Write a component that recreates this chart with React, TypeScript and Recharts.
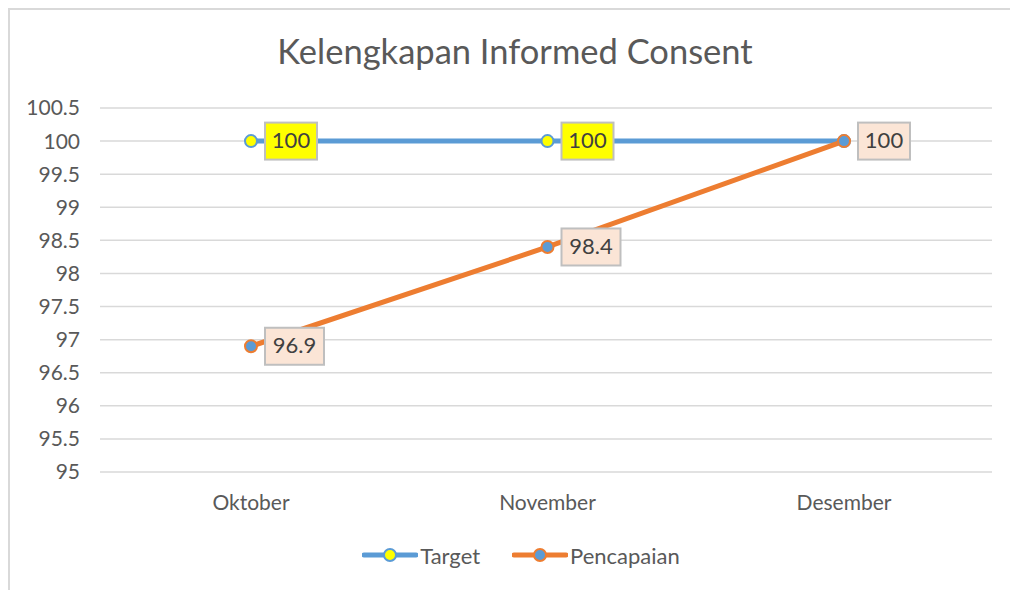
import { LineChart, Line, XAxis, YAxis, CartesianGrid, Legend } from 'recharts';

const months = ['Oktober', 'November', 'Desember'];
const target = [100, 100, 100];
const pencapaian = [96.9, 98.4, 100];
const yTicks = [95, 95.5, 96, 96.5, 97, 97.5, 98, 98.5, 99, 99.5, 100, 100.5];

const data = months.map((m, i) => ({ month: m, target: target[i], pencapaian: pencapaian[i] }));

const FONT = 'Lato, "Open Sans", sans-serif';
const BLUE = '#5B9BD5';
const ORANGE = '#ED7D31';

const makeLabel = (fill: string, skip: number[]) => (props: any) => {
  const { x, y, value, index } = props;
  if (skip.includes(index) || x == null) return null;
  const text = String(value);
  const w = text.length >= 4 ? 59 : 52;
  const h = 37;
  return (
    <g key={`lbl-${index}`}>
      <rect x={x + 14} y={y - h / 2} width={w} height={h} fill={fill} stroke="#BFBFBF" strokeWidth={2} />
      <text
        x={x + 14 + w / 2}
        y={y + 1}
        textAnchor="middle"
        dominantBaseline="middle"
        fontFamily={FONT}
        fontSize={22}
        fill="#404040"
      >
        {text}
      </text>
    </g>
  );
};

const LegendContent = () => {
  const items = [
    { name: 'Target', line: BLUE, dotFill: 'yellow', dotStroke: BLUE },
    { name: 'Pencapaian', line: ORANGE, dotFill: BLUE, dotStroke: ORANGE },
  ];
  return (
    <div style={{ height: 30, display: 'flex', justifyContent: 'center', alignItems: 'center', gap: 32, paddingLeft: 50 }}>
      {items.map((it) => (
        <div key={it.name} style={{ display: 'flex', alignItems: 'center' }}>
          <svg width={56} height={16}>
            <line x1={2} y1={8} x2={54} y2={8} stroke={it.line} strokeWidth={5} strokeLinecap="round" />
            <circle cx={28} cy={8} r={6} fill={it.dotFill} stroke={it.dotStroke} strokeWidth={2} />
          </svg>
          <span style={{ fontFamily: FONT, fontSize: 22, color: '#595959', marginLeft: 2 }}>{it.name}</span>
        </div>
      ))}
    </div>
  );
};

export default function App() {
  return (
    <div style={{ position: 'fixed', left: 0, top: 0, width: 1010, height: 590, background: '#fff', overflow: 'hidden' }}>
      <div
        style={{
          position: 'absolute',
          left: 8,
          top: 8,
          width: 1010,
          height: 590,
          border: '2px solid #D9D9D9',
        }}
      />
      <div
        style={{
          position: 'absolute',
          left: 0,
          top: 30,
          width: 1030,
          textAlign: 'center',
          fontFamily: FONT,
          fontSize: 34.5,
          color: '#595959',
        }}
      >
        Kelengkapan Informed Consent
      </div>
      <div style={{ position: 'absolute', left: 0, top: 0 }}>
        <LineChart width={1010} height={590} data={data} margin={{ top: 108, right: 18, left: 0, bottom: 20 }}>
          <CartesianGrid vertical={false} stroke="#D9D9D9" strokeWidth={1.5} />
          <XAxis
            dataKey="month"
            axisLine={false}
            tickLine={false}
            tickSize={0}
            tickMargin={23}
            height={68}
            padding={{ left: 151, right: 148 }}
            tick={{ fontFamily: FONT, fontSize: 21, fill: '#595959' }}
          />
          <YAxis
            domain={[95, 100.5]}
            ticks={yTicks}
            interval={0}
            axisLine={false}
            tickLine={false}
            tickSize={0}
            tickMargin={20}
            width={100}
            tick={{ fontFamily: FONT, fontSize: 21, fill: '#595959' }}
          />
          <Legend verticalAlign="bottom" content={<LegendContent />} />
          <Line
            dataKey="target"
            name="Target"
            stroke={BLUE}
            strokeWidth={5}
            dot={{ r: 6, fill: 'yellow', stroke: BLUE, strokeWidth: 2 }}
            isAnimationActive={false}
            label={makeLabel('#FFFF00', [2])}
          />
          <Line
            dataKey="pencapaian"
            name="Pencapaian"
            stroke={ORANGE}
            strokeWidth={5}
            dot={{ r: 6, fill: BLUE, stroke: ORANGE, strokeWidth: 2 }}
            isAnimationActive={false}
            label={makeLabel('#FBE5D6', [])}
          />
        </LineChart>
      </div>
    </div>
  );
}
